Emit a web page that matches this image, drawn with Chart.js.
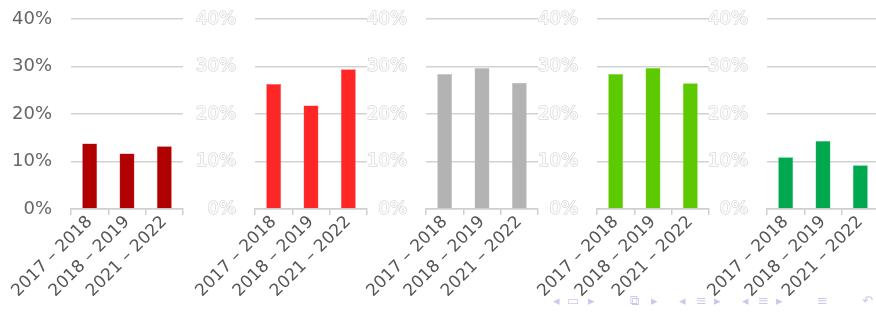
<!DOCTYPE html>
<html>
<head>
<meta charset="utf-8">
<script src="https://cdn.jsdelivr.net/npm/chart.js@4"></script>
<style>
  html, body { margin: 0; padding: 0; background: #fff; }
  body { width: 876px; height: 312px; position: relative; overflow: hidden; }
  canvas { position: absolute; top: 0; }
  .nav { position: absolute; top: 293px; color: #c9c9ec; font: 13px "DejaVu Sans", sans-serif; }
</style>
</head>
<body>
<div id="wrap"></div>
<span class="nav" style="left:553px">◂</span>
<span class="nav" style="left:567px">▭</span>
<span class="nav" style="left:588px">▸</span>
<span class="nav" style="left:630px">⧉</span>
<span class="nav" style="left:651px">▸</span>
<span class="nav" style="left:679px">◂</span>
<span class="nav" style="left:696px">≡</span>
<span class="nav" style="left:714px">▸</span>
<span class="nav" style="left:742px">◂</span>
<span class="nav" style="left:758px">≡</span>
<span class="nav" style="left:776px">▸</span>
<span class="nav" style="left:817px">≡</span>
<span class="nav" style="left:862px">↶</span>
<script>
const categories = ['2017 – 2018', '2018 – 2019', '2021 – 2022'];
const yTickValues = [0, 10, 20, 30, 40];

const darkRed = [13.8, 11.7, 13.2];
const brightRed = [26.3, 21.8, 29.4];
const grey = [28.4, 29.7, 26.6];
const lightGreen = [28.4, 29.7, 26.5];
const darkGreen = [10.9, 14.3, 9.2];

const panels = [
  { data: darkRed, color: '#b00000', edge: '#c84a4a', left: 71, ghost: false },
  { data: brightRed, color: '#ff2626', edge: '#ff5a5a', left: 255, ghost: true },
  { data: grey, color: '#b3b3b3', edge: '#c4c4c4', left: 426, ghost: true },
  { data: lightGreen, color: '#5dc900', edge: '#82d640', left: 597, ghost: true },
  { data: darkGreen, color: '#00a84f', edge: '#40bd7a', left: 767, ghost: true },
];

const AXIS_W = 60;
const PLOT_W = 112;
const PAD_L = 20;
const wrap = document.getElementById('wrap');

panels.forEach(p => {
  const cv = document.createElement('canvas');
  cv.width = PAD_L + AXIS_W + PLOT_W + 2;
  cv.height = 312;
  cv.style.left = (p.left - AXIS_W - PAD_L) + 'px';
  wrap.appendChild(cv);

  new Chart(cv.getContext('2d'), {
    type: 'bar',
    data: {
      labels: categories,
      datasets: [{
        data: p.data,
        backgroundColor: p.color,
        borderColor: p.edge,
        borderWidth: 0.5,
        categoryPercentage: 0.8,
        barPercentage: 0.5,
      }],
    },
    options: {
      responsive: false,
      animation: false,
      layout: { padding: { top: 19, right: 2, left: PAD_L, bottom: 0 } },
      plugins: { legend: { display: false }, tooltip: { enabled: false } },
      scales: {
        x: {
          afterFit: s => { s.height = 103; s.paddingLeft = 0; s.paddingRight = 0; },
          grid: { display: true, drawOnChartArea: false, drawTicks: true, tickLength: 6, color: '#cfcfcf', lineWidth: 1.5 },
          border: { color: '#cfcfcf', width: 1.5 },
          ticks: {
            minRotation: 45, maxRotation: 45,
            color: '#555',
            font: { family: 'DejaVu Sans', size: 17 },
            padding: -3,
          },
        },
        y: {
          min: 0, max: 40,
          afterFit: s => { s.width = AXIS_W; s.paddingTop = 0; s.paddingBottom = 0; },
          afterBuildTicks: s => { s.ticks = yTickValues.map(v => ({ value: v })); },
          grid: { color: '#d2d2d2', lineWidth: 1.5, drawTicks: false },
          border: { display: false },
          ticks: {
            padding: 19,
            callback: v => v + '%',
            color: p.ghost ? '#ffffff' : '#666',
            textStrokeColor: p.ghost ? '#d9d9d9' : undefined,
            textStrokeWidth: p.ghost ? 1.5 : 0,
            font: { family: 'DejaVu Sans', size: 18 },
          },
        },
      },
    },
  });
});
</script>
</body>
</html>
